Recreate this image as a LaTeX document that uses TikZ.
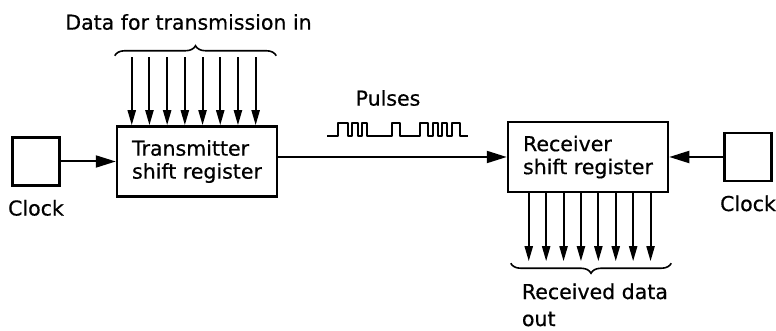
\documentclass[tikz,border=0pt]{standalone}
\usepackage{fontspec}
\setmainfont{DejaVu Sans}[FakeBold=0.6]
\usetikzlibrary{positioning,arrows.meta,calc,decorations.pathreplacing}

\begin{document}
\begin{tikzpicture}[
    x=1pt, y=1pt,
    node distance=55pt,
    box/.style={draw, line width=2.5pt, minimum width=160pt, minimum height=70pt, align=left, inner sep=0pt, font=\fontsize{20.5}{23}\selectfont},
    clockbox/.style={draw, line width=2.5pt, minimum width=47pt, minimum height=48pt, inner sep=0pt},
    lbl/.style={font=\fontsize{20.5}{28}\selectfont, inner sep=0pt},
    arr/.style={-{Triangle[length=20pt,width=12pt]}, line width=2pt},
    datarr/.style={-{Triangle[length=15pt,width=8pt]}, line width=2pt},
    brcup/.style={decorate, decoration={brace, amplitude=10pt}, line width=1.6pt},
    brcdown/.style={decorate, decoration={brace, mirror, amplitude=10pt}, line width=1.6pt},
    pulse/.style={line width=2.2pt, line join=round}
]
\useasboundingbox (0,0) rectangle (776,331);

% registers and clocks
\node[box] (tx) at (197,169.5) {Transmitter\\shift register};
\node[clockbox, left=55pt of tx] (clkL) {};
\node[lbl, below=13pt of clkL] (clkLlbl) {Clock};
\node[box] (rx) at (588,174) {Receiver\\shift register};
\node[clockbox, right=54pt of rx] (clkR) {};
\node[lbl, below=13pt of clkR] (clkRlbl) {Clock};

\draw[arr] (clkL) -- (tx);
\draw[arr] (clkR) -- (rx);
\draw[arr] (tx.east |- rx.west) -- (rx.west);

% parallel data in
\foreach \i in {0,...,7}
  \draw[datarr] ($(tx.north west)+(16+17.7*\i,68)$) -- ($(tx.north west)+(16+17.7*\i,0)$);
\draw[brcup] ($(tx.north west)+(-1,69.5)$) -- ($(tx.north east)+(-2,69.5)$)
  node[lbl, midway, above=25pt, xshift=-7pt] (datain) {Data for transmission in};

% serial pulses
\node[lbl] (pulses) at (388,233) {Pulses};
\draw[pulse] (327,195)
  \foreach \a/\b in {338/348,352/358,362/367,392/400,420/428,433/438,442/447,452/460}
  { -- (\a,195) -- (\a,208) -- (\b,208) -- (\b,195) } -- (468,195);

% parallel data out
\foreach \i in {0,...,7}
  \draw[datarr] ($(rx.south west)+(22+17.4*\i,0)$) -- ($(rx.south west)+(22+17.4*\i,-68)$);
\draw[brcdown] ($(rx.south west)+(4,-70)$) -- ($(rx.south east)+(2,-70)$);
\node[lbl, align=left, anchor=north west, font=\fontsize{20.5}{27}\selectfont] (rxout) at ($(rx.south west)+(15,-90)$) {Received data\\out};
\end{tikzpicture}
\end{document}
